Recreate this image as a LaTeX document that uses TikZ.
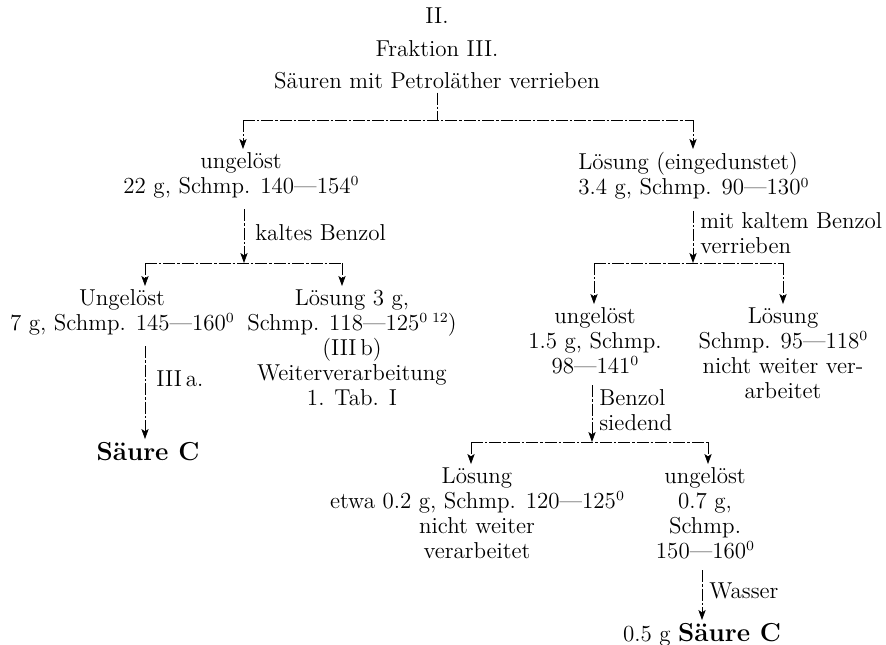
\documentclass[tikz,border=0pt]{standalone}
\usepackage{tikz}
\usepackage{amsmath}
\usetikzlibrary{arrows.meta}

\tikzset{
	txt/.style={align=center, inner sep=1.5pt, font=\fontsize{11.5}{12.5}\selectfont},
	bigtxt/.style={txt, font=\fontsize{13}{14}\selectfont\bfseries},
	lnk/.style={line width=0.35pt, dash pattern=on 6pt off 1pt on 1.2pt off 1pt},
	tip/.style={lnk, -{Stealth[length=5pt,width=3.6pt,inset=1.2pt]}},
	stem/.style={tip, shorten <=4pt},
}
\newcommand{\grad}{\raisebox{0.75ex}{\fontsize{7}{7}\selectfont 0}}

\begin{document}
\begin{tikzpicture}[x=0.5pt,y=-0.5pt]
	\useasboundingbox (0,0) rectangle (886,644);

	\node[txt] (ii) at (437,16) {II.};
	\node[txt] (frak) at (437,49) {Fraktion III.};
	\node[txt] (saeuren) at (437,81) {Säuren mit Petroläther verrieben};

	\node[txt,anchor=north] (ungA) at (241,149) {ungelöst\\22 g, Schmp. 140---154\grad};
	\node[txt,anchor=north west,align=left] (loesB) at (575,149) {Lösung (eingedunstet)\\3.4 g, Schmp. 90---130\grad};

	\coordinate (bar1l) at (243,120);
	\coordinate (bar1r) at (693,120);
	\draw[lnk] (saeuren.south) -- (saeuren.south |- bar1l);
	\draw[lnk] (bar1l) -- (bar1r);
	\draw[tip] (bar1l) -- (bar1l |- ungA.north);
	\draw[tip] (bar1r) -- (bar1r |- loesB.north);

	\node[txt,anchor=north] (ungH) at (122,286) {Ungelöst\\7 g, Schmp. 145---160\grad};
	\node[txt,anchor=north] (loesI) at (352,286) {Lösung 3 g,\\Schmp. 118---125\raisebox{0.75ex}{\fontsize{7}{7}\selectfont 0\,\,12})\\(III\,b)\\Weiterverarbeitung\\1. Tab. I};
	\node[bigtxt,anchor=north] (saeureJ) at (148,439) {Säure C};

	\coordinate (bar2l) at (145,263);
	\coordinate (bar2m) at (244,263);
	\coordinate (bar2r) at (342,263);
	\draw[stem] (ungA.south -| bar2m) -- (bar2m) node[txt,midway,right=4pt] (lblA) {kaltes Benzol};
	\draw[lnk] (bar2l) -- (bar2r);
	\draw[tip] (bar2l) -- (bar2l |- ungH.north);
	\draw[tip] (bar2r) -- (bar2r |- loesI.north);
	\draw[stem] (ungH.south -| bar2l) -- (bar2l |- saeureJ.north) node[txt,pos=0.4,right=4pt] (lblH) {III\,a.};

	\node[txt,anchor=north] (ungC) at (595,304) {ungelöst\\1.5 g, Schmp.\\98---141\grad};
	\node[txt,anchor=north] (loesD) at (783,304) {Lösung\\Schmp. 95---118\grad\\nicht weiter ver-\\arbeitet};

	\coordinate (bar3l) at (594,263);
	\coordinate (bar3m) at (693,263);
	\coordinate (bar3r) at (783,263);
	\draw[stem] (loesB.south -| bar3m) -- (bar3m) node[txt,midway,right=2pt,align=left] (lblB) {mit kaltem Benzol\\verrieben};
	\draw[lnk] (bar3l) -- (bar3r);
	\draw[tip] (bar3l) -- (bar3l |- ungC.north);
	\draw[tip] (bar3r) -- (bar3r |- loesD.north);

	\node[txt,anchor=north] (loesE) at (477,464) {Lösung\\etwa 0.2 g, Schmp. 120---125\grad\\nicht weiter\\verarbeitet};
	\node[txt,anchor=north] (ungF) at (705,464) {ungelöst\\0.7 g,\\Schmp.\\150---160\grad};
	\node[txt,anchor=north] (saeureG) at (702,620) {0.5 g {\fontsize{13}{14}\selectfont\bfseries Säure C}};

	\coordinate (bar4l) at (471,442);
	\coordinate (bar4m) at (592,442);
	\coordinate (bar4r) at (708,442);
	\draw[stem] (ungC.south -| bar4m) -- (bar4m) node[txt,midway,right=2pt,align=left] (lblC) {Benzol\\siedend};
	\draw[lnk] (bar4l) -- (bar4r);
	\draw[tip] (bar4l) -- (bar4l |- loesE.north);
	\draw[tip] (bar4r) -- (bar4r |- ungF.north);
	\draw[stem] (ungF.south -| saeureG.north) -- (saeureG.north) node[txt,midway,right=2pt] (lblF) {Wasser};

\end{tikzpicture}
\end{document}
